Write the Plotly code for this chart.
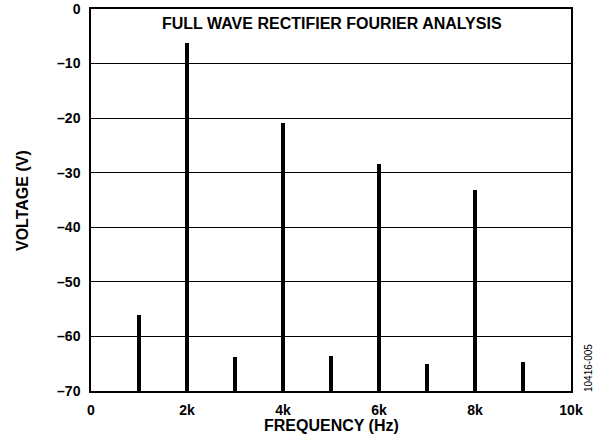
import plotly.graph_objects as go

# Data
freqs_hz = [1000, 2000, 3000, 4000, 5000, 6000, 7000, 8000, 9000]
voltage_v = [-56.0, -6.3, -63.7, -20.8, -63.6, -28.4, -65.0, -33.2, -64.6]
y_floor = -70
x_tickvals = [0, 2000, 4000, 6000, 8000, 10000]
x_ticktext = ["0", "2k", "4k", "6k", "8k", "10k"]
y_tickvals = [0, -10, -20, -30, -40, -50, -60, -70]
y_ticktext = ["0", "–10", "–20", "–30", "–40", "–50", "–60", "–70"]

FONT = "Liberation Sans, Arial, sans-serif"

W, H = 597, 442
l, r, t, b = 91, 26, 9, 51
pw, ph = W - l - r, H - t - b


def px_x(x):
    return (x - l) / pw


def px_y(y):
    return (H - b - y) / ph


fig = go.Figure()
fig.add_trace(go.Bar(
    x=freqs_hz,
    y=[v - y_floor for v in voltage_v],
    base=y_floor,
    width=68,
    marker=dict(color="black", line=dict(width=0)),
    showlegend=False,
    hoverinfo="skip",
))

fig.update_layout(
    width=W, height=H,
    margin=dict(l=l, r=r, t=t, b=b, autoexpand=False),
    paper_bgcolor="white", plot_bgcolor="white",
    font=dict(family=FONT, color="black"),
    bargap=0,
    xaxis=dict(
        range=[0, 10000], tickvals=x_tickvals, ticktext=x_ticktext,
        showgrid=False, zeroline=False, showline=True, mirror=True,
        linecolor="black", linewidth=1.5, ticks="", automargin=False,
        ticklabelstandoff=5,
        tickfont=dict(size=14, family=FONT, weight="bold"),
    ),
    yaxis=dict(
        range=[-70, 0], tickvals=y_tickvals, ticktext=y_ticktext,
        showgrid=True, gridcolor="black", gridwidth=1, zeroline=False,
        showline=True, mirror=True, linecolor="black", linewidth=1.5, ticks="",
        automargin=False, ticklabelstandoff=6,
        tickfont=dict(size=14, family=FONT, weight="bold"),
    ),
    annotations=[
        dict(text="FULL WAVE RECTIFIER FOURIER ANALYSIS", x=px_x(332), y=px_y(24),
             xref="paper", yref="paper", yanchor="middle", xanchor="center",
             showarrow=False, font=dict(size=16, family=FONT, weight="bold")),
        dict(text="FREQUENCY (Hz)", x=px_x(331), y=px_y(425), xref="paper", yref="paper",
             yanchor="middle", xanchor="center", showarrow=False,
             font=dict(size=16, family=FONT, weight="bold")),
        dict(text="VOLTAGE (V)", x=px_x(22), y=px_y(201), xref="paper", yref="paper",
             xanchor="center", yanchor="middle", showarrow=False, textangle=-90,
             font=dict(size=16, family=FONT, weight="bold")),
        dict(text="10416-005", x=px_x(588), y=px_y(368), xref="paper", yref="paper",
             xanchor="center", yanchor="middle", showarrow=False, textangle=-90,
             font=dict(size=10, family=FONT)),
    ],
)

fig.write_html("out.html", config={"displayModeBar": False},
               post_script="document.body.style.margin='0';")
